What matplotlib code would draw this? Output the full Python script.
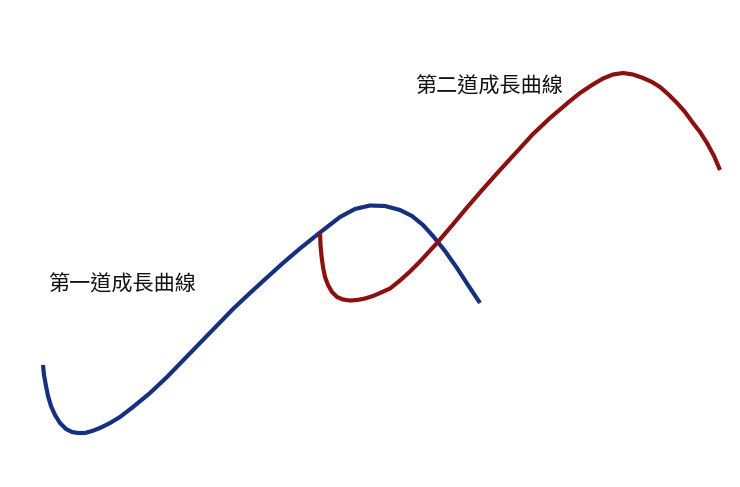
import matplotlib
matplotlib.use("Agg")
import matplotlib.pyplot as plt

plt.rcParams['font.family'] = ['Noto Sans CJK TC', 'DejaVu Sans']

# Points (pixel-like coordinate space, y downward)
curve1_x = [43, 44, 46, 48, 51, 55, 60, 66, 72, 78, 85, 92, 100, 110, 120, 133, 150, 167, 183, 200,
            217, 233, 250, 267, 283, 300, 320, 340, 355, 370, 385, 400, 412, 423, 433, 445, 457, 468, 480]
curve1_y = [365, 375, 386, 396, 406, 415, 423, 429, 432, 433, 433, 431, 428, 423, 417, 407, 393, 377, 360.5, 343,
            325.5, 309, 293, 277.5, 263, 248.5, 232.5, 217, 209, 205.5, 206, 210, 216, 225, 236, 251, 268, 285, 303]

curve2_x = [320, 320.5, 321.5, 323, 325, 328, 332, 337, 343, 350, 357, 365, 373, 380, 390, 400, 410,
            420, 437, 452, 467, 483, 500, 517, 533, 550, 560, 570, 580, 592, 603, 613, 623, 633, 643,
            652, 660, 668, 677, 685, 693, 700, 707, 714, 720]
curve2_y = [233, 245, 256, 267, 277, 285, 292, 297, 299.5, 300.5, 300, 298.5, 296, 293, 288.5, 280.5, 271.5,
            261.5, 243, 225.5, 207.5, 189, 170, 151.5, 134, 118, 109.5, 101, 93, 85, 78.5, 74.5, 73, 74.5, 78,
            82, 87, 94, 103, 112, 123, 132, 143, 156, 170]

label1 = "第一道成長曲線"
label2 = "第二道成長曲線"

fig = plt.figure(figsize=(7.4, 4.87), dpi=100)
ax = fig.add_axes([0, 0, 1, 1])
ax.set_xlim(0, 740)
ax.set_ylim(487, 0)
ax.axis('off')

ax.plot(curve1_x, curve1_y, color='#14307f', lw=3.0, solid_capstyle='butt', solid_joinstyle='round')
ax.plot(curve2_x, curve2_y, color='#8b1010', lw=3.0, solid_capstyle='butt', solid_joinstyle='round')

ax.text(48, 285, label1, fontsize=15.2, color='#111111', va='center', ha='left')
ax.text(415, 87, label2, fontsize=15.2, color='#111111', va='center', ha='left')

fig.savefig('out.png', dpi=100)
